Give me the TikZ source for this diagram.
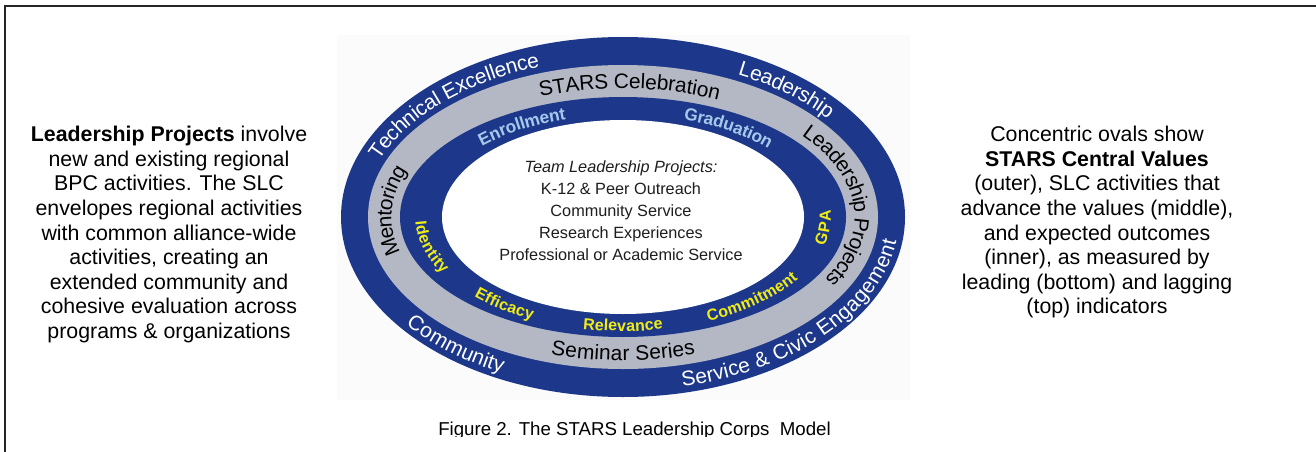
\documentclass[tikz,border=0pt]{standalone}
\usepackage{fontspec}
\setmainfont{Liberation Sans}
\usetikzlibrary{decorations.text}
\definecolor{starsblue}{RGB}{29,56,139}
\definecolor{starsgray}{RGB}{180,184,196}
\definecolor{lightlab}{RGB}{165,200,235}
\definecolor{yellab}{RGB}{240,236,20}
\definecolor{imgbg}{RGB}{251,251,251}
\definecolor{darktext}{RGB}{30,30,30}
\newcommand\bandfont{\fontsize{15.7}{18}\selectfont}
\newcommand\boldbandfont{\bfseries\fontsize{12}{14}\selectfont}
\newcommand\boldbluefont{\bfseries\fontsize{13}{15}\selectfont}
\begin{document}
\begin{tikzpicture}[x=0.75pt,y=0.75pt,
  sidetext/.style={align=center, inner sep=0pt, font=\fontsize{16}{18.4}\selectfont},
  outerlab/.style={decorate, decoration={text along path, text align=center, raise=-5.6pt, text color=white, text={|\bandfont|#1}}},
  graylab/.style={decorate, decoration={text along path, text align=center, raise=-5.6pt, text color=black, text={|\bandfont|#1}}},
  bluelab/.style={decorate, decoration={text along path, text align=center, raise=-4.6pt, text color=lightlab, text={|\boldbluefont|#1}}},
  yellowlab/.style={decorate, decoration={text along path, text align=center, raise=-4.3pt, text color=yellab, text={|\boldbandfont|#1}}}
]
\useasboundingbox (0,0) rectangle (1316,451);
% frame
\draw[line width=1.5pt, black!85] (5,-3) -- (5,445) -- (1320,445);
% embedded picture background
\fill[imgbg] (337,51) rectangle (910,416);
\coordinate (C) at (623,234);
% rings
\fill[starsblue] (C) ellipse [x radius=282, y radius=180];
\fill[starsgray] (C) ellipse [x radius=255, y radius=152];
\fill[starsblue] (C) ellipse [x radius=223, y radius=120];
\fill[white] (C) ellipse [x radius=181, y radius=97];
% outer band labels
\path[outerlab={Technical Excellence}] (C) ++(184:268.5 and 166) arc[start angle=184, end angle=92, x radius=268.5, y radius=166];
\path[outerlab={Leadership}] (C) ++(83:268.5 and 166) arc[start angle=83, end angle=13, x radius=268.5, y radius=166];
\path[outerlab={Community}] (C) ++(197:268.5 and 166) arc[start angle=197, end angle=259, x radius=268.5, y radius=166];
\path[outerlab={Service {\&} Civic Engagement}] (C) ++(267:268.5 and 166) arc[start angle=267, end angle=377, x radius=268.5, y radius=166];
% gray band labels
\path[graylab={STARS Celebration}] (C) ++(135:239 and 136) arc[start angle=135, end angle=41, x radius=239, y radius=136];
\path[graylab={Mentoring}] (C) ++(225:239 and 136) arc[start angle=225, end angle=131, x radius=239, y radius=136];
\path[graylab={Leadership Projects}] (C) ++(71:239 and 136) arc[start angle=71, end angle=-63, x radius=239, y radius=136];
\path[graylab={Seminar Series}] (C) ++(225:239 and 136) arc[start angle=225, end angle=315, x radius=239, y radius=136];
% inner band labels
\path[bluelab={Enrollment}] (C) ++(151:202 and 108.5) arc[start angle=151, end angle=95, x radius=202, y radius=108.5];
\path[bluelab={Graduation}] (C) ++(85:202 and 108.5) arc[start angle=85, end angle=25, x radius=202, y radius=108.5];
\path[yellowlab={Identity}] (C) ++(169:202 and 108.5) arc[start angle=169, end angle=219, x radius=202, y radius=108.5];
\path[yellowlab={Efficacy}] (C) ++(206:202 and 108.5) arc[start angle=206, end angle=257, x radius=202, y radius=108.5];
\path[yellowlab={Relevance}] (C) ++(245:202 and 108.5) arc[start angle=245, end angle=295, x radius=202, y radius=108.5];
\path[yellowlab={Commitment}] (C) ++(284:202 and 108.5) arc[start angle=284, end angle=344, x radius=202, y radius=108.5];
\path[yellowlab={GPA}] (C) ++(337:202 and 108.5) arc[start angle=337, end angle=373, x radius=202, y radius=108.5];
% inner text
\node[align=center, inner sep=0pt, text=darktext, font=\fontsize{12.2}{16.5}\selectfont] (team) at (621,240.3)
  {\textit{Team Leadership Projects:}\\K-12 \& Peer Outreach\\Community Service\\Research Experiences\\Professional or Academic Service};
% side texts
\node[sidetext] (left) at (169,216.5)
  {\textbf{Leadership Projects} involve\\new and existing regional\\BPC activities. The SLC\\envelopes regional activities\\with common alliance-wide\\activities, creating an\\extended community and\\cohesive evaluation across\\programs \& organizations};
\node[sidetext] (right) at (1097,228.75)
  {Concentric ovals show\\\textbf{STARS Central Values}\\(outer), SLC activities that\\advance the values (middle),\\and expected outcomes\\(inner), as measured by\\leading (bottom) and lagging\\(top) indicators};
% caption (cut off at the bottom)
\begin{scope}
\clip (0,14.5) rectangle (1316,451);
\node[anchor=base west, inner sep=0pt, font=\fontsize{14}{16}\selectfont] (caption) at (438,16)
  {Figure 2. The STARS Leadership Corps\ \ Model};
\end{scope}
\end{tikzpicture}
\end{document}
